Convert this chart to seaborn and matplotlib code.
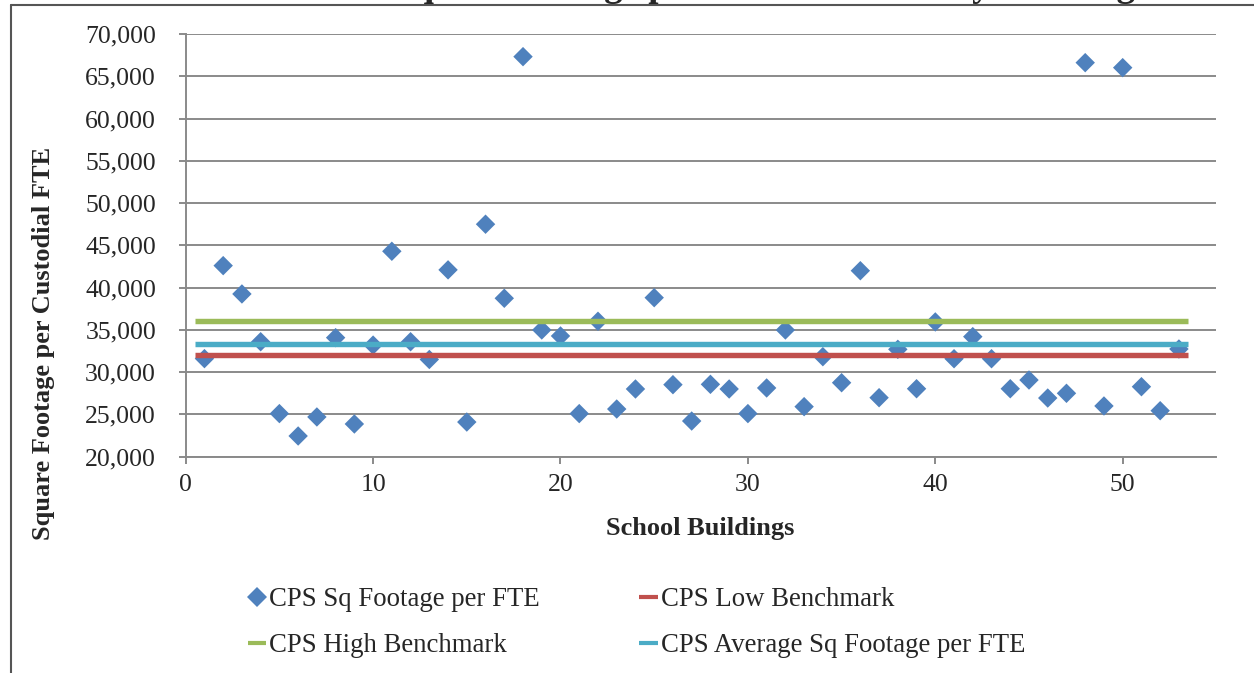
import matplotlib
matplotlib.use("Agg")
import matplotlib.pyplot as plt
import seaborn as sns
import pandas as pd
from matplotlib.lines import Line2D

# ---------------- data ----------------
buildings = list(range(1, 54))
sq_ft_per_fte = [31600, 42600, 39250, 33600, 25100, 22450, 24700, 34080, 23870, 33200,
                 44300, 33600, 31500, 42100, 24100, 47500, 38740, 67320, 34990, 34280,
                 25100, 36020, 25640, 28010, 38810, 28520, 24220, 28560, 28010, 25100,
                 28130, 34990, 25920, 31830, 28750, 42000, 26980, 32700, 28040, 35940,
                 31590, 34200, 31590, 28040, 29070, 26940, 27500, 66610, 26000, 66020,
                 28280, 25440, 32740]
line_x = [0.5, 53.5]
low_benchmark = 32000
high_benchmark = 36000
avg_sq_ft = 33300

series_names = ["CPS Sq Footage per FTE", "CPS Low Benchmark",
                "CPS High Benchmark", "CPS Average Sq Footage per FTE"]
x_ticks = [0, 10, 20, 30, 40, 50]
y_ticks = list(range(20000, 70001, 5000))
title_text = "CPS Square Footage per Custodial FTE by Building"
x_label = "School Buildings"
y_label = "Square Footage per Custodial FTE"

# ---------------- style ----------------
sns.set_theme(style="white")
plt.rcParams["font.family"] = ["Liberation Serif", "DejaVu Serif"]

BLUE = "#4F81BD"
RED = "#C0504D"
GREEN = "#9BBB59"
CYAN = "#4BACC6"
GRID = "#8A8A8A"

W, H = 1254, 673
fig = plt.figure(figsize=(W / 100, H / 100), dpi=100)
ax = fig.add_axes([185.7 / W, 1 - 456.7 / H, (1216.4 - 185.7) / W, (456.7 - 34.0) / H])

df = pd.DataFrame({"building": buildings, "sqft": sq_ft_per_fte})
sns.scatterplot(data=df, x="building", y="sqft", marker="D", s=98, color=BLUE,
                edgecolor="none", linewidth=0, ax=ax, zorder=3, legend=False)

for val, col in [(low_benchmark, RED), (high_benchmark, GREEN), (avg_sq_ft, CYAN)]:
    ldf = pd.DataFrame({"x": line_x, "y": [val] * len(line_x)})
    sns.lineplot(data=ldf, x="x", y="y", color=col, linewidth=3.9, ax=ax,
                 zorder=4, legend=False, solid_capstyle="butt")

ax.set_xlim(0, 55)
ax.set_ylim(20000, 70000)
ax.set_xticks(x_ticks)
ax.set_yticks(y_ticks)
ax.set_yticklabels([f"{v:,}" for v in y_ticks])
ax.yaxis.grid(True, color=GRID, linewidth=1.4)
ax.xaxis.grid(False)
ax.set_axisbelow(True)
for side in ["top", "right"]:
    ax.spines[side].set_visible(False)
for side in ["left", "bottom"]:
    ax.spines[side].set_color(GRID)
    ax.spines[side].set_linewidth(1.4)
ax.tick_params(axis="y", which="major", direction="out", length=5.3, width=1.4,
               color=GRID, labelsize=18.5, pad=16, left=True)
ax.tick_params(axis="x", which="major", direction="out", length=5.3, width=1.4,
               color=GRID, labelsize=18.5, pad=7, bottom=True)

ax.set_xlabel(x_label, fontsize=19, fontweight="bold", va="center")
ax.xaxis.set_label_coords(0.499, (456.7 - 528) / 422.7)
ax.set_ylabel(y_label, fontsize=19, fontweight="bold", va="center", ha="center")
ax.yaxis.set_label_coords((43 - 185.7) / 1030.7, (456.7 - 343) / 422.7)

# legend (column-major order: col1 = Sq, High; col2 = Low, Avg)
h_sq = Line2D([], [], marker="D", linestyle="none", color=BLUE, markersize=10,
              markeredgewidth=0)
h_low = Line2D([], [], color=RED, linewidth=3.0, solid_capstyle="butt")
h_high = Line2D([], [], color=GREEN, linewidth=3.0, solid_capstyle="butt")
h_avg = Line2D([], [], color=CYAN, linewidth=3.0, solid_capstyle="butt")
fig.legend([h_sq, h_high, h_low, h_avg],
           [series_names[0], series_names[2], series_names[1], series_names[3]],
           ncol=2, frameon=False, fontsize=19.3, loc="upper left",
           bbox_to_anchor=(248 / W, 1 - 587 / H), borderpad=0, borderaxespad=0,
           handlelength=0.68, handletextpad=0.12, columnspacing=3.7,
           labelspacing=0.78)

# title (mostly cropped above the image, as in the reference)
fig.text(314 / W, 1 + 4 / H, title_text, fontsize=26.6, fontweight="bold",
         ha="left", va="baseline")

# chart-area border (top and left visible)
fig.add_artist(Line2D([11 / W, 1.0], [1 - 4.5 / H, 1 - 4.5 / H], color="#555555",
                      linewidth=1.5, transform=fig.transFigure))
fig.add_artist(Line2D([11 / W, 11 / W], [1 - 4.5 / H, 0], color="#555555",
                      linewidth=1.5, transform=fig.transFigure))

fig.savefig("out.png", dpi=100)
